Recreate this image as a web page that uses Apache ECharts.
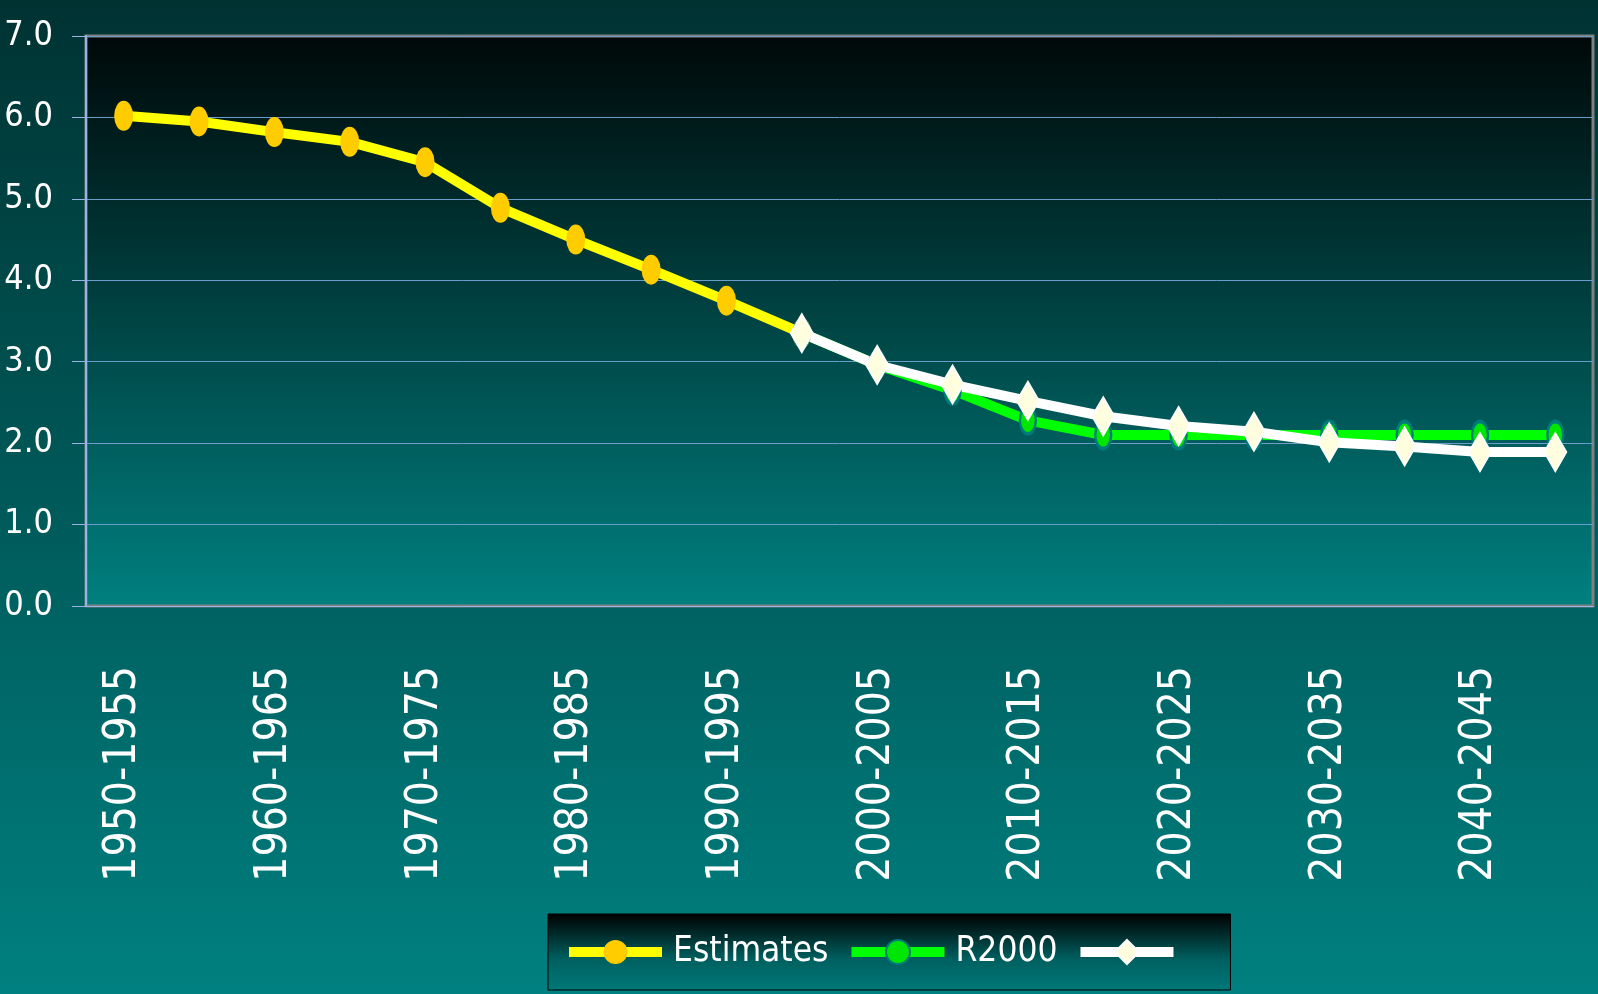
<!DOCTYPE html>
<html>
<head>
<meta charset="utf-8">
<script src="https://cdn.jsdelivr.net/npm/echarts@6/dist/echarts.min.js"></script>
<style>
  html, body { margin: 0; padding: 0; }
  #chart { width: 1598px; height: 994px; }
</style>
</head>
<body>
<div id="chart"></div>
<script>
const categories = [
  '1950-1955', '1955-1960', '1960-1965', '1965-1970', '1970-1975',
  '1975-1980', '1980-1985', '1985-1990', '1990-1995', '1995-2000',
  '2000-2005', '2005-2010', '2010-2015', '2015-2020', '2020-2025',
  '2025-2030', '2030-2035', '2035-2040', '2040-2045', '2045-2050'
];
const estimates = [6.02, 5.95, 5.82, 5.70, 5.45, 4.89, 4.50, 4.13, 3.75, 3.35,
  '-', '-', '-', '-', '-', '-', '-', '-', '-', '-'];
const r2000 = ['-', '-', '-', '-', '-', '-', '-', '-', '-', 3.35,
  2.96, 2.65, 2.28, 2.10, 2.10, 2.10, 2.10, 2.10, 2.10, 2.10];
const third = ['-', '-', '-', '-', '-', '-', '-', '-', '-', 3.35,
  2.96, 2.72, 2.52, 2.33, 2.21, 2.14, 2.01, 1.96, 1.89, 1.89];
const seriesNames = ['Estimates', 'R2000', ' '];

const font = "'Liberation Sans Narrow', 'DejaVu Sans Condensed', sans-serif";

const getOption = () => {
  const pageBg = new echarts.graphic.LinearGradient(0, 0, 0, 1, [
    { offset: 0, color: '#003232' },
    { offset: 1, color: '#008080' }
  ]);
  const plotBg = new echarts.graphic.LinearGradient(0, 0, 0, 1, [
    { offset: 0, color: '#000808' },
    { offset: 1, color: '#008080' }
  ]);
  const legendBg = new echarts.graphic.LinearGradient(0, 0, 0, 1, [
    { offset: 0, color: '#000000' },
    { offset: 0.6, color: '#006060' },
    { offset: 1, color: '#007878' }
  ]);

  return {
    backgroundColor: pageBg,
    animation: false,
    grid: {
      left: 86,
      right: 5,
      top: 36,
      bottom: 388,
      outerBoundsMode: 'none',
      show: true,
      backgroundColor: plotBg,
      borderColor: '#808080',
      borderWidth: 3
    },
    legend: {
      data: seriesNames,
      left: 548,
      top: 914,
      padding: [14, 36, 14, 16],
      itemWidth: 93,
      itemHeight: 30,
      itemGap: 18,
      backgroundColor: legendBg,
      borderColor: '#000000',
      borderWidth: 1,
      lineStyle: { width: 10 },
      textStyle: {
        color: '#ffffff',
        fontFamily: font,
        fontSize: 35,
        lineHeight: 48,
        padding: [0, 0, 0, 6]
      }
    },
    xAxis: {
      type: 'category',
      data: categories,
      boundaryGap: true,
      axisLine: { lineStyle: { color: '#99b3e6', width: 1 } },
      axisTick: { interval: 0, length: 20, lineStyle: { color: '#99b3e6' } },
      axisLabel: {
        interval: 1,
        rotate: 90,
        margin: 60,
        color: '#ffffff',
        fontFamily: font,
        fontSize: 44
      },
      splitLine: { show: false }
    },
    yAxis: {
      type: 'value',
      min: 0,
      max: 7,
      interval: 1,
      axisLine: { show: true, lineStyle: { color: '#99b3e6', width: 2 } },
      axisTick: { show: true, length: 14, lineStyle: { color: '#99b3e6' } },
      axisLabel: {
        margin: 33,
        color: '#ffffff',
        fontFamily: font,
        fontSize: 34,
        formatter: v => v.toFixed(1)
      },
      splitLine: { lineStyle: { color: '#6a9ccc', width: 1 } }
    },
    series: [
      {
        name: seriesNames[0],
        type: 'line',
        data: estimates,
        symbol: 'circle',
        symbolSize: [19, 30],
        lineStyle: { color: '#ffff00', width: 10 },
        itemStyle: { color: '#ffcc00', borderWidth: 0 }
      },
      {
        name: seriesNames[1],
        type: 'line',
        data: r2000,
        symbol: 'circle',
        symbolSize: [16, 27],
        lineStyle: { color: '#00ff00', width: 10 },
        itemStyle: { color: '#00e600', borderColor: '#007a7a', borderWidth: 3 }
      },
      {
        name: seriesNames[2],
        type: 'line',
        data: third,
        symbol: 'diamond',
        symbolSize: [22, 38],
        lineStyle: { color: '#ffffff', width: 10 },
        itemStyle: { color: '#ffffe0', borderColor: '#ffffff', borderWidth: 2 }
      }
    ]
  };
};

const chart = echarts.init(document.getElementById('chart'));
chart.setOption(getOption());
</script>
</body>
</html>
